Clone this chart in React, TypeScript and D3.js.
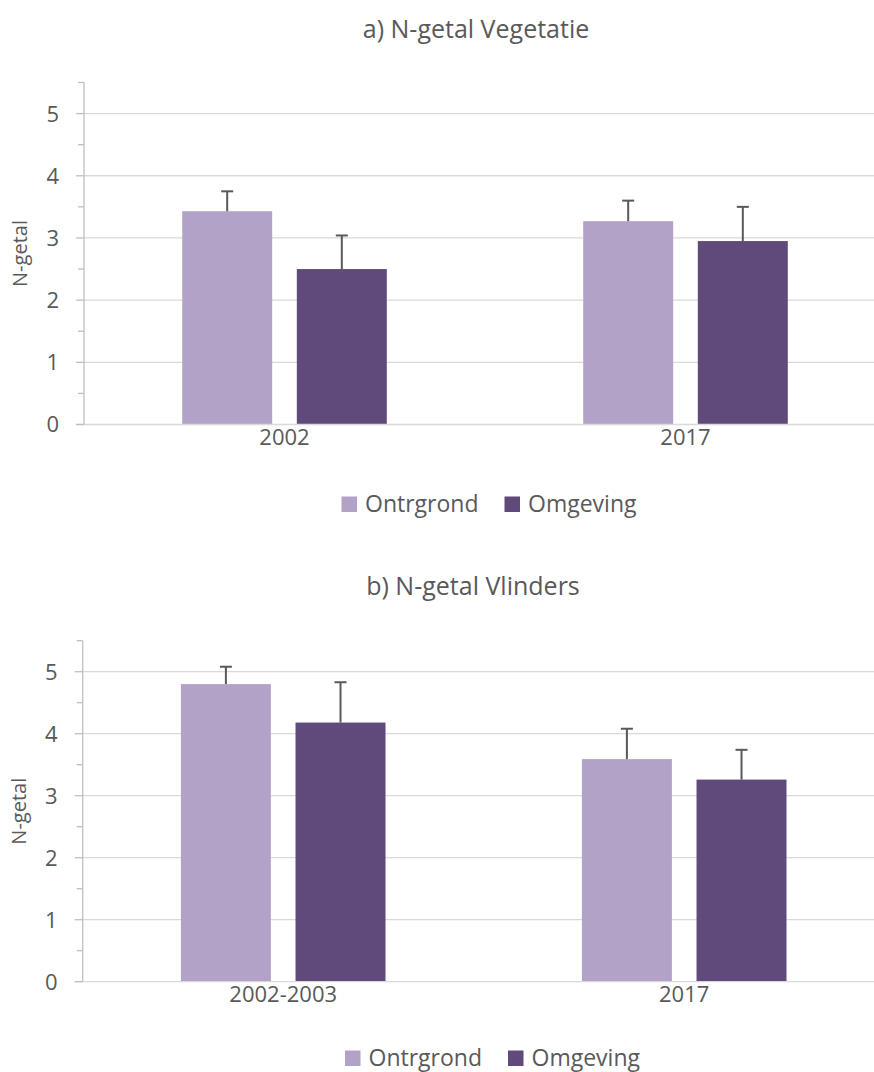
import React from "react";
import * as d3 from "d3";

// ---- data ----
const panelTitles = ["a) N-getal Vegetatie", "b) N-getal Vlinders"];
const categoriesA = ["2002", "2017"];
const categoriesB = ["2002-2003", "2017"];
const seriesNames = ["Ontrgrond", "Omgeving"];
const ontrgrondA = [3.43, 3.27];
const omgevingA = [2.5, 2.95];
const ontrgrondErrA = [0.32, 0.33];
const omgevingErrA = [0.54, 0.55];
const ontrgrondB = [4.8, 3.59];
const omgevingB = [4.18, 3.26];
const ontrgrondErrB = [0.28, 0.49];
const omgevingErrB = [0.65, 0.48];
const yTicks = [0, 1, 2, 3, 4, 5];
const yMinorTicks = [0.5, 1.5, 2.5, 3.5, 4.5, 5.5];
const yMax = 5.5;
const axisTitle = "N-getal";

const colors = ["#B3A2C7", "#604A7B"];
const textColor = "#595959";
const font = "'Open Sans', 'Noto Sans', sans-serif";

type PanelProps = {
  title: string;
  categories: string[];
  values: number[][];
  errors: number[][];
  left: number;
  right: number;
  top: number;
  bottom: number;
  titleX: number;
  titleY: number;
  catLabelY: number;
  legendX: number;
  legendY: number;
};

function Panel(p: PanelProps) {
  const y = d3.scaleLinear().domain([0, yMax]).range([p.bottom, p.top]);
  const x0 = d3.scaleBand<string>().domain(p.categories).range([p.left, p.right]);
  const groupW = 204.6;
  const x1 = d3
    .scaleBand<string>()
    .domain(seriesNames)
    .range([0, groupW])
    .paddingInner(0.215);

  return (
    <g>
      <text
        x={p.titleX}
        y={p.titleY}
        textAnchor="middle"
        fontFamily={font}
        fontSize={25}
        fill={textColor}
      >
        {p.title}
      </text>
      {/* gridlines */}
      {yTicks
        .filter((t) => t > 0)
        .map((t) => (
          <line
            key={"g" + t}
            x1={p.left}
            x2={p.right}
            y1={y(t)}
            y2={y(t)}
            stroke="#D9D9D9"
            strokeWidth={1.3}
          />
        ))}
      {/* bars */}
      {p.categories.map((c, ci) => {
        const gx = x0(c)! + x0.bandwidth() / 2 - groupW / 2;
        return seriesNames.map((s, si) => {
          const v = p.values[si][ci];
          const e = p.errors[si][ci];
          const bx = gx + x1(s)!;
          const cx = bx + x1.bandwidth() / 2;
          return (
            <g key={c + s}>
              <rect
                x={bx}
                y={y(v)}
                width={x1.bandwidth()}
                height={y(0) - y(v)}
                fill={colors[si]}
              />
              <line x1={cx} x2={cx} y1={y(v)} y2={y(v + e)} stroke={textColor} strokeWidth={2} />
              <line
                x1={cx - 6}
                x2={cx + 6}
                y1={y(v + e)}
                y2={y(v + e)}
                stroke={textColor}
                strokeWidth={2}
              />
            </g>
          );
        });
      })}
      {/* x axis line */}
      <line x1={p.left - 8} x2={p.right} y1={y(0)} y2={y(0)} stroke="#D9D9D9" strokeWidth={1.3} />
      {/* y axis */}
      <line x1={p.left} x2={p.left} y1={y(yMax)} y2={y(0)} stroke="#BFBFBF" strokeWidth={1.3} />
      {yTicks.map((t) => (
        <g key={"t" + t}>
          <line x1={p.left - 8} x2={p.left} y1={y(t)} y2={y(t)} stroke="#BFBFBF" strokeWidth={1.3} />
          <text
            x={p.left - 25}
            y={y(t)}
            dy="0.36em"
            textAnchor="end"
            fontFamily={font}
            fontSize={22}
            fill={textColor}
          >
            {t}
          </text>
        </g>
      ))}
      {yMinorTicks.map((t) => (
        <line
          key={"m" + t}
          x1={p.left - 6}
          x2={p.left}
          y1={y(t)}
          y2={y(t)}
          stroke="#BFBFBF"
          strokeWidth={1.3}
        />
      ))}
      <text
        transform={`translate(${p.left - 57},${(y(0) + y(yMax)) / 2}) rotate(-90)`}
        textAnchor="middle"
        fontFamily={font}
        fontSize={20}
        fill={textColor}
      >
        {axisTitle}
      </text>
      {/* category labels */}
      {p.categories.map((c) => (
        <text
          key={"c" + c}
          x={x0(c)! + x0.bandwidth() / 2}
          y={p.catLabelY}
          textAnchor="middle"
          fontFamily={font}
          fontSize={22}
          fill={textColor}
        >
          {c}
        </text>
      ))}
      {/* legend */}
      {seriesNames.map((s, i) => {
        const lx = p.legendX + i * 163;
        return (
          <g key={"l" + s}>
            <rect x={lx} y={p.legendY - 15.5} width={15.5} height={15.5} fill={colors[i]} />
            <text x={lx + 23.5} y={p.legendY} fontFamily={font} fontSize={23} fill={textColor}>
              {s}
            </text>
          </g>
        );
      })}
    </g>
  );
}

export default function App() {
  return (
    <svg
      width={874}
      height={1072}
      style={{ position: "absolute", left: 0, top: 0, background: "#fff" }}
    >
      <rect width={874} height={1072} fill="#fff" />
      <Panel
        title={panelTitles[0]}
        categories={categoriesA}
        values={[ontrgrondA, omgevingA]}
        errors={[ontrgrondErrA, omgevingErrA]}
        left={84}
        right={886}
        top={82.5}
        bottom={424.5}
        titleX={476}
        titleY={38}
        catLabelY={445}
        legendX={341.5}
        legendY={512}
      />
      <Panel
        title={panelTitles[1]}
        categories={categoriesB}
        values={[ontrgrondB, omgevingB]}
        errors={[ontrgrondErrB, omgevingErrB]}
        left={82.7}
        right={884.7}
        top={640.7}
        bottom={981.7}
        titleX={473}
        titleY={595}
        catLabelY={1002}
        legendX={345}
        legendY={1066}
      />
    </svg>
  );
}
